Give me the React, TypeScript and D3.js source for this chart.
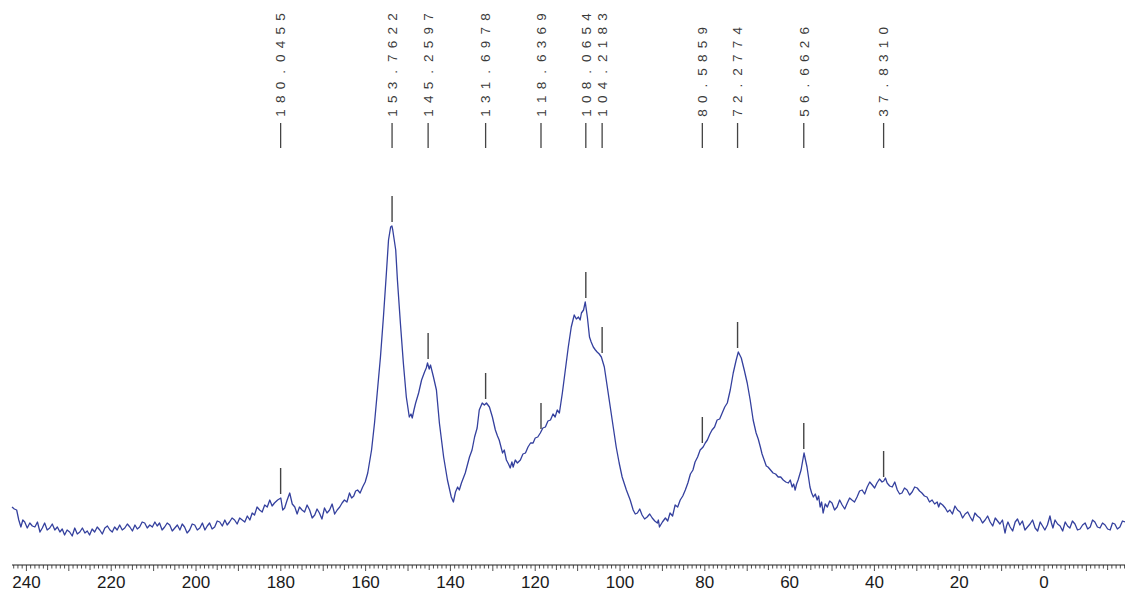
import React from 'react';
import * as d3 from 'd3';

// [ppm, intensity], split into regions
const spectrumDownfield: [number, number][] = [
  [243.4, 33], [242.85, 31], [242.3, 30], [241.8, 20], [241.3, 13], [240.85, 20], [240.4, 18], [239.8, 12],
  [239.2, 17], [238.6, 14], [238.0, 13], [237.4, 18], [236.8, 8], [236.25, 12], [235.7, 17], [235.1, 10],
  [234.5, 12], [233.9, 16], [233.3, 10], [232.7, 13], [232.1, 8], [231.55, 11], [231.0, 5], [230.4, 10],
  [229.8, 8], [229.2, 4], [228.6, 12], [228.0, 6], [227.4, 8], [226.8, 12], [226.2, 7], [225.65, 9],
  [225.1, 5], [224.5, 11], [223.9, 8], [223.3, 13], [222.7, 10], [222.1, 6], [221.5, 12], [220.9, 14],
  [220.3, 10], [219.75, 8], [219.2, 13], [218.6, 10], [218.0, 15], [217.4, 10], [216.8, 12], [216.2, 16],
  [215.6, 13], [215.0, 9], [214.4, 15], [213.85, 11], [213.3, 13], [212.7, 18], [212.1, 17], [211.5, 12],
  [210.9, 15], [210.3, 13], [209.7, 18], [209.15, 14], [208.6, 17], [208.0, 10], [207.4, 13], [206.8, 17],
  [206.2, 15], [205.6, 9], [205.0, 12], [204.4, 15], [203.8, 10], [203.25, 16], [202.7, 13], [202.1, 7],
  [201.5, 10], [200.9, 16], [200.3, 15], [199.7, 10], [199.1, 12], [198.5, 17], [197.9, 10], [197.35, 14],
  [196.8, 17], [196.2, 11], [195.6, 13], [195.0, 19], [194.4, 18], [193.8, 14], [193.2, 20], [192.65, 15],
  [192.1, 18], [191.5, 22], [190.9, 20], [190.3, 16], [189.7, 22], [189.1, 20], [188.5, 18], [187.9, 24],
  [187.3, 20], [186.75, 27], [186.2, 25], [185.6, 33], [185.0, 30], [184.4, 28], [183.8, 35], [183.2, 33],
  [182.6, 40], [182.05, 34], [181.5, 37], [180.75, 40], [180.0, 42], [179.55, 30], [179.1, 32], [178.5, 40],
  [177.9, 47], [177.3, 36], [176.7, 33], [176.15, 26], [175.6, 33], [175.0, 30], [174.4, 28], [173.8, 35],
  [173.2, 30], [172.6, 22], [172.0, 25], [171.45, 31], [170.9, 27], [170.3, 21], [169.7, 32], [169.1, 27],
  [168.5, 30], [167.9, 36], [167.3, 26], [166.7, 30], [166.1, 33], [165.55, 37], [165.0, 40], [164.4, 38],
  [163.8, 47], [163.3, 42], [162.8, 44], [162.35, 49], [161.9, 50], [161.3, 47], [160.7, 53], [160.1, 58],
];

const spectrumPeaks: [number, number][] = [
  [159.5, 67], [158.6, 90], [157.9, 117], [157.2, 150], [156.5, 183], [155.8, 223], [155.1, 267], [154.6, 300],
  [154.1, 313], [153.8, 314], [153.6, 310], [152.9, 290], [152.5, 260], [151.8, 217], [151.1, 177], [150.4, 143],
  [149.7, 123], [149.3, 126], [149.0, 122], [148.6, 130], [148.2, 137], [147.5, 147], [146.8, 160], [146.1, 168],
  [145.7, 172], [145.4, 177], [145.0, 171], [144.7, 175], [144.0, 163], [143.3, 150], [142.6, 117], [141.6, 83],
  [140.7, 60], [139.8, 43], [139.3, 38], [138.8, 48], [138.3, 53], [137.9, 50], [137.4, 57], [136.5, 67],
  [135.5, 83], [134.9, 90], [134.3, 103], [133.7, 112], [133.2, 130], [132.5, 137], [132.0, 135], [131.5, 137],
  [130.8, 133], [130.1, 123], [129.4, 110], [128.9, 104], [128.5, 100], [127.7, 87], [127.3, 90], [126.8, 80],
  [126.3, 76], [125.9, 72], [125.5, 78], [125.2, 73], [124.7, 80], [124.2, 77], [123.5, 80], [122.9, 86],
  [122.3, 87], [121.7, 93], [121.1, 97], [120.5, 97], [120.0, 102], [119.4, 103], [118.8, 107], [118.2, 112],
  [117.6, 113], [117.0, 119], [116.4, 120], [115.8, 126], [115.3, 123], [114.8, 130], [114.3, 127], [113.6, 147],
  [112.9, 170], [112.2, 193], [111.5, 213], [110.8, 225], [110.3, 221], [109.8, 223], [109.4, 220], [109.1, 227],
  [108.6, 230], [108.2, 238], [107.7, 223], [107.2, 203], [106.8, 198], [106.3, 193], [105.8, 190], [105.4, 188],
  [104.9, 186], [104.4, 183], [103.7, 173], [103.0, 153], [102.3, 133], [101.6, 113], [100.9, 93], [100.2, 77],
  [99.5, 63], [98.5, 50], [97.6, 40], [96.9, 30], [96.4, 26], [95.9, 27], [95.35, 31], [94.8, 25],
  [94.2, 21], [93.6, 23], [93.0, 26], [92.4, 22], [91.8, 19], [91.2, 17], [90.95, 20], [90.7, 13],
  [90.0, 18], [89.3, 22], [88.75, 19], [88.2, 27], [87.6, 24], [87.0, 35], [86.4, 33], [85.8, 40],
  [85.2, 44], [84.6, 50], [84.0, 57], [83.4, 66], [82.8, 70], [82.3, 78], [81.7, 83], [81.1, 90],
  [80.4, 93], [79.9, 97], [79.4, 100], [78.8, 106], [78.3, 110], [77.7, 113], [77.1, 120], [76.5, 121],
  [75.9, 127], [75.3, 133], [74.7, 137], [74.0, 150], [73.3, 167], [72.6, 180], [72.1, 188], [71.4, 182],
  [70.7, 170], [70.0, 157], [69.3, 140], [68.6, 120], [67.9, 107], [67.4, 101], [66.9, 93], [66.5, 86],
];

const spectrumUpfield: [number, number][] = [
  [66.0, 80], [65.5, 74], [65.1, 73], [64.5, 70], [63.9, 67], [63.3, 66], [62.7, 63], [62.1, 63],
  [61.5, 60], [60.9, 58], [60.3, 57], [59.85, 60], [59.4, 53], [59.05, 56], [58.7, 50], [58.35, 56],
  [58.0, 60], [57.3, 70], [56.6, 87], [55.9, 73], [55.2, 53], [54.8, 47], [54.4, 43], [53.95, 46],
  [53.5, 40], [53.15, 44], [52.8, 33], [52.45, 38], [52.1, 27], [51.6, 36], [51.1, 33], [50.55, 39],
  [50.0, 37], [49.4, 30], [48.8, 33], [48.2, 40], [47.6, 35], [47.0, 31], [46.4, 37], [45.85, 42],
  [45.3, 40], [44.7, 38], [44.1, 43], [43.5, 49], [42.9, 50], [42.3, 46], [41.7, 53], [41.1, 58],
  [40.5, 55], [39.95, 52], [39.4, 57], [38.8, 61], [38.2, 58], [37.8, 59], [37.4, 62], [37.0, 57],
  [36.4, 54], [35.8, 53], [35.2, 58], [34.6, 50], [34.05, 46], [33.5, 47], [32.9, 52], [32.3, 50],
  [31.7, 45], [31.1, 48], [30.5, 53], [29.9, 52], [29.35, 49], [28.8, 47], [28.2, 44], [27.6, 43],
  [27.0, 38], [26.4, 40], [25.8, 36], [25.2, 38], [24.85, 33], [24.5, 37], [23.9, 35], [23.3, 32],
  [22.75, 28], [22.2, 30], [21.6, 26], [21.0, 34], [20.4, 30], [19.8, 28], [19.2, 22], [18.6, 26],
  [18.0, 28], [17.4, 23], [16.85, 19], [16.3, 27], [15.7, 24], [15.1, 22], [14.5, 17], [13.9, 20],
  [13.3, 24], [12.7, 18], [12.1, 14], [11.5, 22], [10.95, 19], [10.4, 16], [9.8, 20], [9.2, 7],
  [8.85, 14], [8.5, 18], [8.0, 13], [7.4, 9], [6.8, 18], [6.25, 21], [5.7, 15], [5.1, 19],
  [4.5, 10], [3.9, 13], [3.3, 16], [2.7, 20], [2.1, 12], [1.5, 9], [0.9, 18], [0.35, 14],
  [-0.2, 10], [-0.8, 15], [-1.4, 24], [-1.75, 17], [-2.1, 12], [-2.6, 20], [-3.2, 16], [-3.8, 14],
  [-4.4, 9], [-5.0, 18], [-5.55, 14], [-6.1, 12], [-6.7, 19], [-7.3, 16], [-7.9, 10], [-8.5, 11],
  [-9.1, 15], [-9.7, 17], [-10.3, 11], [-10.9, 13], [-11.45, 20], [-12.0, 18], [-12.6, 13], [-13.2, 12],
  [-13.8, 17], [-14.4, 15], [-15.0, 11], [-15.6, 10], [-16.15, 17], [-16.7, 16], [-17.3, 11], [-17.9, 13],
  [-18.5, 19], [-19.1, 18],
];

const peakPpm = [180.0455, 153.7622, 145.2597, 131.6978, 118.6369, 108.0654, 104.2183, 80.5859, 72.2774, 56.6626, 37.831];
const peakLabels = ['180.0455', '153.7622', '145.2597', '131.6978', '118.6369', '108.0654', '104.2183', '80.5859', '72.2774', '56.6626', '37.8310'];
const peakHeights = [42, 314, 177, 137, 107, 238, 183, 93, 188, 87, 59];

const xTickLabels = [240, 220, 200, 180, 160, 140, 120, 100, 80, 60, 40, 20, 0];

export default function App() {
  const W = 1125;
  const H = 592;
  const x = d3.scaleLinear().domain([243.4, -19.1]).range([12, 1125]);
  const y = d3.scaleLinear().domain([0, 330]).range([540, 210]);
  const data: [number, number][] = [...spectrumDownfield, ...spectrumPeaks, ...spectrumUpfield];
  const line = d3
    .line<[number, number]>()
    .x((d) => x(d[0]))
    .y((d) => y(d[1]));
  const axisY = 565;
  const ticks = d3.range(-19, 244, 1);
  const font = 'Arial, "Liberation Sans", Helvetica, sans-serif';

  return (
    <svg width={W} height={H} style={{ position: 'absolute', left: 0, top: 0, background: '#fff' }}>
      <rect width={W} height={H} fill="#fff" />
      {peakPpm.map((p, i) => {
        const px = x(p);
        const chars = peakLabels[i].split('');
        return (
          <g key={'pl' + i}>
            <line x1={px} x2={px} y1={123} y2={148} stroke="#444" strokeWidth={1.3} />
            {chars.map((c, j) => (
              <text
                key={j}
                transform={`translate(${px},${113 - j * 13.7}) rotate(-90)`}
                textAnchor="middle"
                dy="0.36em"
                fontFamily={font}
                fontSize={13.5}
                fill="#3a3a3a"
              >
                {c}
              </text>
            ))}
          </g>
        );
      })}
      {peakPpm.map((p, i) => (
        <line
          key={'pm' + i}
          x1={x(p)}
          x2={x(p)}
          y1={y(peakHeights[i]) - 30}
          y2={y(peakHeights[i]) - 4}
          stroke="#444"
          strokeWidth={1.4}
        />
      ))}
      <path d={line(data) || ''} fill="none" stroke="#34409e" strokeWidth={1.3} strokeLinejoin="round" />
      <line x1={12} x2={W} y1={axisY} y2={axisY} stroke="#222" strokeWidth={1} />
      {ticks.map((t) => (
        <line
          key={'t' + t}
          x1={x(t)}
          x2={x(t)}
          y1={axisY}
          y2={axisY + (t % 10 === 0 ? 6 : t % 5 === 0 ? 5 : 3.5)}
          stroke="#222"
          strokeWidth={0.8}
        />
      ))}
      {xTickLabels.map((t) => (
        <text key={'l' + t} x={x(t)} y={588} textAnchor="middle" fontFamily={font} fontSize={17} fill="#1a1a1a">
          {t}
        </text>
      ))}
    </svg>
  );
}
